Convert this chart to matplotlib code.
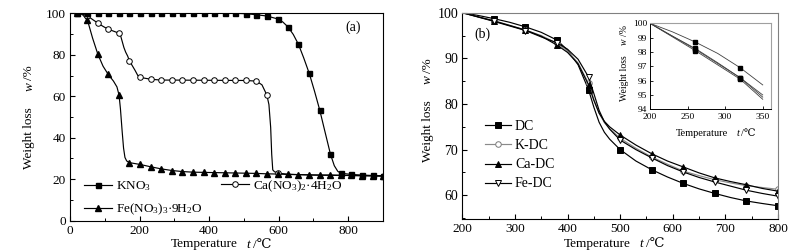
import matplotlib
matplotlib.use('Agg')
import matplotlib.pyplot as plt
from matplotlib.lines import Line2D
from matplotlib.legend import Legend
from matplotlib.ticker import MultipleLocator
import matplotlib.transforms as mtransforms

plt.rcParams['font.family'] = ['Liberation Serif', 'DejaVu Serif']
plt.rcParams['mathtext.fontset'] = 'custom'
plt.rcParams['mathtext.rm'] = 'Liberation Serif'
plt.rcParams['mathtext.it'] = 'Liberation Serif:italic'
plt.rcParams['mathtext.bf'] = 'Liberation Serif:bold'

# ---------------- Panel (a) data ----------------
marker_T_a = [19, 50, 80, 110, 141, 171, 202, 232, 262, 293, 323, 354, 384, 414, 445,
              475, 506, 536, 566, 597, 627, 657, 688, 718, 749, 779, 809, 840, 870, 900]

kno3_mw = [100, 100, 100, 100, 100, 100, 100, 100, 100, 100, 100, 100, 100, 100, 100,
           100, 99.8, 99.3, 98.7, 97.3, 93.4, 85.0, 71.0, 53.4, 32.0, 22.9, 22.3, 22.0, 21.8, 21.6]
kno3_T = [19, 475, 506, 536, 566, 597, 612, 627, 642, 657, 672, 688, 703, 718, 733, 749,
          760, 770, 779, 809, 840, 870, 900]
kno3_w = [100, 100, 99.8, 99.3, 98.7, 97.3, 95.8, 93.4, 89.8, 85.0, 78.5, 71.0, 62.5, 53.4,
          43.0, 32.0, 26.5, 23.8, 22.9, 22.3, 22.0, 21.8, 21.6]

ca_mT = [19, 50, 80, 110, 141, 171, 202, 232, 262, 293, 323, 354, 384, 414, 445, 475, 506, 536, 566, 597]
ca_mw = [100, 98.8, 95.3, 92.3, 90.4, 77.0, 69.1, 68.2, 67.8, 67.8, 67.8, 67.8, 67.8, 67.8,
         67.8, 67.7, 67.6, 67.3, 60.6, 23.1]
ca_T = [19, 35, 50, 65, 80, 95, 110, 125, 141, 145, 150, 155, 160, 166, 171, 180, 187, 195,
        202, 232, 262, 293, 506, 536, 552, 566, 572, 577, 580, 583, 588, 597, 610, 627, 700, 800, 900]
ca_w = [100, 99.7, 98.8, 97.0, 95.3, 93.7, 92.3, 91.4, 90.4, 89.5, 86.5, 83.5, 81.3, 79.3,
        77.0, 74.5, 72.5, 70.0, 69.1, 68.2, 67.8, 67.8, 67.6, 67.3, 65.5, 60.6, 56.0, 45.0,
        32.0, 24.5, 23.6, 23.1, 22.7, 22.4, 22.0, 21.8, 21.6]

fe_mw = [100, 96.8, 80.3, 70.5, 60.6, 28.0, 27.1, 26.0, 25.0, 24.2, 23.7, 23.4, 23.3, 23.2,
         23.1, 23.0, 22.9, 22.8, 22.6, 22.5, 22.3, 22.2, 22.1, 22.0, 22.0, 21.9, 21.8, 21.7, 21.6, 21.5]
fe_T = [19, 35, 50, 65, 80, 95, 110, 125, 135, 141, 145, 150, 154, 158, 163, 171, 202, 232,
        262, 293, 323, 354, 384, 414, 445, 475, 506, 536, 566, 597, 627, 657, 688, 718, 749,
        779, 809, 840, 870, 900]
fe_w = [100, 99.5, 96.8, 88.0, 80.3, 74.5, 70.5, 67.3, 64.5, 60.6, 54.0, 43.0, 35.0, 30.5,
        28.8, 28.0, 27.1, 26.0, 25.0, 24.2, 23.7, 23.4, 23.3, 23.2, 23.1, 23.0, 22.9, 22.8,
        22.6, 22.5, 22.3, 22.2, 22.1, 22.0, 22.0, 21.9, 21.8, 21.7, 21.6, 21.5]

labels_a = ['KNO$_3$', 'Ca(NO$_3$)$_2$\u00b74H$_2$O', 'Fe(NO$_3$)$_3$\u00b79H$_2$O']

# ---------------- Panel (b) data ----------------
T_b = [200, 230, 260, 290, 320, 350, 380, 400, 420, 440, 450, 460, 470, 480, 500, 530,
       560, 590, 620, 650, 680, 710, 740, 770, 800]
marker_T_b = [260, 320, 380, 440, 500, 560, 620, 680, 740, 800]
dc_w = [100, 99.4, 98.7, 97.9, 96.9, 95.7, 94.0, 91.8, 88.6, 83.1, 79.3, 76.0, 73.8, 72.3,
        70.0, 67.5, 65.6, 64.0, 62.6, 61.4, 60.4, 59.5, 58.75, 58.2, 57.7]
k_w = [100, 99.1, 98.25, 97.25, 96.2, 95.0, 93.3, 91.6, 89.0, 84.5, 81.0, 78.0, 75.9, 74.6,
       72.5, 70.3, 68.4, 66.8, 65.3, 64.3, 63.4, 62.7, 62.1, 61.7, 61.3]
ca_dc_w = [100, 99.1, 98.2, 97.2, 96.2, 94.85, 92.9, 91.3, 88.8, 84.2, 80.8, 78.0, 76.2, 75.0,
           73.2, 71.0, 69.1, 67.5, 66.2, 64.9, 63.8, 63.0, 62.3, 61.5, 60.9]
fe_dc_w = [100, 99.05, 98.1, 97.1, 96.1, 94.7, 93.4, 92.0, 89.8, 85.9, 82.3, 78.6, 76.1, 74.5,
           72.1, 70.0, 68.2, 66.5, 65.1, 63.9, 62.9, 62.0, 61.1, 60.4, 59.8]
labels_b = ['DC', 'K-DC', 'Ca-DC', 'Fe-DC']
inset_marker_T = [260, 320]

# ---------------- figure ----------------
W, H, DPI = 794, 252, 100
fig = plt.figure(figsize=(W / DPI, H / DPI), dpi=DPI)

def px_axes(l, t, r, b):
    return fig.add_axes([l / W, 1 - b / H, (r - l) / W, (b - t) / H])

ax_a = px_axes(70, 13.3, 383, 220.7)
ax_b = px_axes(462.3, 12.7, 778, 219)
ax_in = px_axes(650, 23.3, 771, 109.3)

LW = 0.85
MS = 4.0

# panel (a)
ax_a.plot(ca_T, ca_w, color='black', lw=LW, zorder=2)
ax_a.plot(ca_mT, ca_mw, ls='none', marker='o', ms=MS, mfc='white', mec='black', mew=0.7, zorder=3)
ax_a.plot(fe_T, fe_w, color='black', lw=LW, zorder=2)
ax_a.plot(marker_T_a, fe_mw, ls='none', marker='^', ms=MS, color='black', zorder=4)
ax_a.plot(kno3_T, kno3_w, color='black', lw=LW, zorder=2)
ax_a.plot(marker_T_a, kno3_mw, ls='none', marker='s', ms=MS - 0.4, color='black', zorder=5)

ax_a.set_xlim(0, 900)
ax_a.set_ylim(0, 100)
ax_a.xaxis.set_major_locator(MultipleLocator(200))
ax_a.xaxis.set_minor_locator(MultipleLocator(100))
ax_a.yaxis.set_major_locator(MultipleLocator(20))
ax_a.yaxis.set_minor_locator(MultipleLocator(10))

h_kno3 = Line2D([], [], color='black', lw=LW, marker='s', ms=MS - 0.4)
h_ca = Line2D([], [], color='black', lw=LW, marker='o', ms=MS, mfc='white', mew=0.7)
h_fe = Line2D([], [], color='black', lw=LW, marker='^', ms=MS)

def entry(ax, handle, label, x, y, fs, hl):
    leg = Legend(ax, [handle], [label], loc='center left', bbox_to_anchor=(x, y),
                 bbox_transform=ax.transAxes, frameon=False, borderpad=0,
                 borderaxespad=0, handlelength=hl, handletextpad=0.3, fontsize=fs,
                 numpoints=1)
    ax.add_artist(leg)

entry(ax_a, h_kno3, labels_a[0], 0.045, 0.167, 9.5, 2.1)
entry(ax_a, h_ca, labels_a[1], 0.482, 0.167, 9.5, 2.1)
entry(ax_a, h_fe, labels_a[2], 0.045, 0.054, 9.5, 2.1)
ax_a.text(0.903, 0.933, '(a)', transform=ax_a.transAxes, fontsize=10, ha='center', va='center')

# panel (b)
series_b = [dc_w, k_w, ca_dc_w, fe_dc_w]
styles_b = [dict(color='black', marker='s', mfc='black', mec='black'),
            dict(color='#8a8a8a', marker='o', mfc='white', mec='#7a7a7a'),
            dict(color='black', marker='^', mfc='black', mec='black'),
            dict(color='black', marker='v', mfc='white', mec='black')]
mk_idx = [T_b.index(t) for t in marker_T_b]
for w, st in zip(series_b, styles_b):
    ax_b.plot(T_b, w, lw=LW, ms=MS, mew=0.7, markevery=mk_idx, **st)

ax_b.set_xlim(200, 800)
ax_b.set_ylim(54.8, 100)
ax_b.xaxis.set_major_locator(MultipleLocator(100))
ax_b.xaxis.set_minor_locator(MultipleLocator(50))
ax_b.yaxis.set_major_locator(MultipleLocator(10))
ax_b.yaxis.set_minor_locator(MultipleLocator(5))
ax_b.spines['top'].set_color('#808080')
ax_b.spines['right'].set_color('#808080')

ys = [0.447, 0.355, 0.262, 0.170]
for lab, st, y in zip(labels_b, styles_b, ys):
    h = Line2D([], [], lw=LW, ms=MS, mew=0.7, **st)
    entry(ax_b, h, lab, 0.072, y, 10, 1.85)
ax_b.text(0.063, 0.897, '(b)', transform=ax_b.transAxes, fontsize=10, ha='center', va='center')

# inset
ins_idx = [i for i, t in enumerate(T_b) if t <= 350]
ins_mk = [ins_idx.index(T_b.index(t)) for t in inset_marker_T]
for w in series_b:
    ax_in.plot([T_b[i] for i in ins_idx], [w[i] for i in ins_idx], color='#404040', lw=0.6,
               marker='s', ms=2.2, mfc='black', mec='black', markevery=ins_mk)
ax_in.set_xlim(200, 361)
ax_in.set_ylim(94, 100)
ax_in.xaxis.set_major_locator(MultipleLocator(50))
ax_in.yaxis.set_major_locator(MultipleLocator(1))
ax_in.spines['top'].set_color('#a0a0a0')
ax_in.spines['right'].set_color('#a0a0a0')
ax_in.tick_params(which='both', direction='in', labelsize=6.8, length=2, width=0.6,
                  top=False, right=False)
ax_in.tick_params(axis='x', pad=3)
ax_in.tick_params(axis='y', pad=2)
for sp in ['left', 'bottom']:
    ax_in.spines[sp].set_linewidth(0.7)

for ax, fs in [(ax_a, 9.5), (ax_b, 9.5)]:
    ax.tick_params(which='major', direction='in', length=3.5, width=0.8, labelsize=fs, pad=3)
    ax.tick_params(which='minor', direction='in', length=2, width=0.7)
    for sp in ax.spines.values():
        sp.set_linewidth(0.8)
ax_b.tick_params(axis='y', labelsize=10)

# axis labels built from pieces (normal / italic)
renderer = fig.canvas.get_renderer()

def rich_label(x_px, y_px, pieces, fs, rotation=0):
    widths = []
    for s, st, g in pieces:
        t = fig.text(0, 0, s, fontsize=fs, style=st)
        widths.append(t.get_window_extent(renderer).width)
        t.remove()
    total = sum(widths) + sum(p[2] for p in pieces)
    pos = -total / 2
    X, Y = x_px / W, 1 - y_px / H
    for (s, st, g), wd in zip(pieces, widths):
        pos += g
        if rotation == 0:
            tr = mtransforms.offset_copy(fig.transFigure, fig=fig, x=pos * 72 / DPI, y=0, units='points')
        else:
            tr = mtransforms.offset_copy(fig.transFigure, fig=fig, x=0, y=pos * 72 / DPI, units='points')
        fig.text(X, Y, s, transform=tr, fontsize=fs, style=st, rotation=rotation,
                 rotation_mode='anchor', ha='left', va='baseline')
        pos += wd

xl = [('Temperature', 'normal', 0), ('t', 'italic', 9), ('/\u2103', 'normal', 2.5)]
yl = [('Weight loss', 'normal', 0), ('w', 'italic', 16), ('/%', 'normal', 2.5)]
xl_in = [('Temperature', 'normal', 0), ('t', 'italic', 8), ('/\u2103', 'normal', 2)]
yl_in = [('Weight loss', 'normal', 0), ('w', 'italic', 10), ('/%', 'normal', 2)]
rich_label(221, 247.5, xl, 9.5)
rich_label(614, 247, xl, 9.5)
rich_label(32.3, 116.7, yl, 9.5, rotation=90)
rich_label(430.5, 110, yl, 9.5, rotation=90)
rich_label(716, 135.5, xl_in, 7.5)
rich_label(627, 63, yl_in, 7.0, rotation=90)

fig.savefig('out.png', dpi=DPI)
